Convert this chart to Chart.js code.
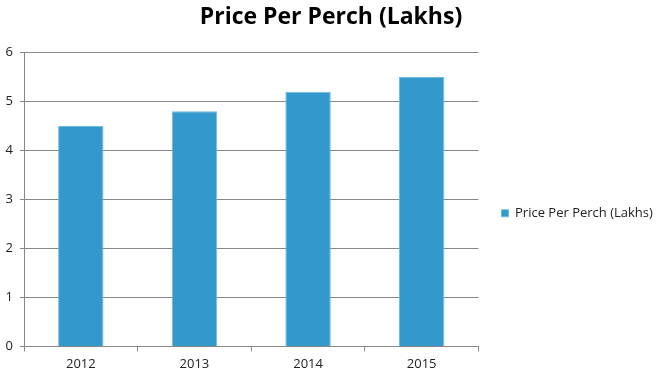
<!DOCTYPE html>
<html>
<head>
<meta charset="utf-8">
<script src="https://cdn.jsdelivr.net/npm/chart.js@4/dist/chart.umd.min.js"></script>
<style>
html,body{margin:0;padding:0;background:#fff;}
#wrap{width:660px;height:381px;}
</style>
</head>
<body>
<div id="wrap"><canvas id="c" width="660" height="381"></canvas></div>
<script>
const categories = ["2012", "2013", "2014", "2015"];
const seriesName = "Price Per Perch (Lakhs)";
const priceValues = [4.5, 4.8, 5.2, 5.5];
const yTicks = [0, 1, 2, 3, 4, 5, 6];

const FONT = "'Open Sans', 'Noto Sans', sans-serif";

new Chart(document.getElementById('c'), {
  type: 'bar',
  data: {
    labels: categories,
    datasets: [{
      label: seriesName,
      data: priceValues,
      backgroundColor: '#3399cc',
      borderColor: '#6cbbe3',
      borderWidth: 1,
      categoryPercentage: 1.0,
      barPercentage: 0.4,
      yAxisID: 'y'
    }]
  },
  options: {
    responsive: false,
    animation: false,
    devicePixelRatio: 1,
    layout: { padding: { left: 2, right: 0, top: 0, bottom: 4 } },
    plugins: {
      title: {
        display: true,
        text: 'Price Per Perch (Lakhs)',
        color: '#000',
        font: { family: FONT, size: 23, weight: 'bold' },
        padding: { top: 4, bottom: 21 }
      },
      legend: {
        display: true,
        position: 'right',
        align: 'center',
        title: {
          display: true,
          text: ' ',
          font: { family: FONT, size: 13 },
          padding: { top: 0, bottom: 34 }
        },
        labels: {
          boxWidth: 7,
          boxHeight: 7,
          padding: 6,
          color: '#222',
          font: { family: FONT, size: 13 }
        }
      },
      tooltip: { enabled: false }
    },
    scales: {
      x: {
        offset: true,
        grid: {
          offset: true,
          drawOnChartArea: false,
          drawTicks: true,
          tickLength: 5,
          color: '#888'
        },
        border: { color: '#888', width: 1 },
        ticks: {
          color: '#222',
          padding: 5,
          font: { family: FONT, size: 13 }
        }
      },
      y: {
        position: 'left',
        min: 0,
        max: 6,
        afterBuildTicks: (axis) => { axis.ticks = yTicks.map(v => ({ value: v })); },
        afterFit: (s) => { s.width = 22; },
        grid: {
          color: '#888',
          drawTicks: true,
          tickLength: 4
        },
        border: { color: '#888', width: 1 },
        ticks: {
          color: '#222',
          padding: 7,
          font: { family: FONT, size: 13 }
        }
      },
      gap: {
        type: 'linear',
        position: 'right',
        display: false,
        afterFit: (s) => { s.width = 17; }
      }
    }
  }
});
</script>
</body>
</html>
